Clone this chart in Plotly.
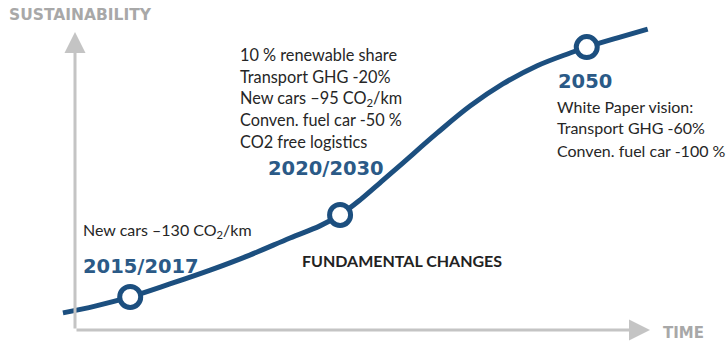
import plotly.graph_objects as go

# ---- data (abstract units: time 0..100, sustainability 0..100) ----
curve_time = [-2.1, 3.5, 9.6, 16.5, 23.5, 30.4, 37.4, 42.6, 46.1, 49.6, 53.0, 57.0, 63.0, 68.7, 74.4, 80.3, 86.1, 89.0, 94.8, 99.6]
curve_sust = [5.8, 8.1, 11.2, 15.6, 20.3, 25.4, 31.2, 35.3, 39.0, 44.1, 49.8, 56.6, 66.8, 75.9, 83.4, 89.5, 93.9, 95.9, 99.3, 102.0]

milestone_time = [9.6, 46.1, 89.0]
milestone_sust = [11.2, 39.0, 95.9]
milestone_labels = ["2015/2017", "2020/2030", "2050"]

block_2020 = ["10 % renewable share", "Transport GHG -20%", "New cars \u201395 CO<sub>2</sub>/km",
              "Conven. fuel car -50 %", "CO2 free logistics"]
block_2050 = ["White Paper vision:", "Transport GHG -60%", "Conven. fuel car -100 %"]
note_2015 = "New cars \u2013130 CO<sub>2</sub>/km"
middle_label = "FUNDAMENTAL CHANGES"
axis_y_title = "SUSTAINABILITY"
axis_x_title = "TIME"

W, H = 727, 343
BLUE = "#1c4f7f"
YEARBLUE = "#2b5a87"
GREY = "#c4c4c4"
TXT = "#262626"

fig = go.Figure()
fig.add_trace(go.Scatter(x=curve_time, y=curve_sust, mode="lines",
                         line=dict(color=BLUE, width=5, shape="spline", smoothing=1.0),
                         hoverinfo="skip"))
fig.add_trace(go.Scatter(x=milestone_time, y=milestone_sust, mode="markers",
                         marker=dict(size=21, color="white", line=dict(color=BLUE, width=5)),
                         hoverinfo="skip"))

ann = []
# axis arrows
ann.append(dict(x=0, y=101, ax=0, ay=0, xref="x", yref="y", axref="x", ayref="y",
                showarrow=True, arrowhead=2, arrowsize=1.4, arrowwidth=3, arrowcolor=GREY, text=""))
ann.append(dict(x=100, y=0, ax=0, ay=0, xref="x", yref="y", axref="x", ayref="y",
                showarrow=True, arrowhead=2, arrowsize=1.4, arrowwidth=3, arrowcolor=GREY, text=""))

def P(px, py):
    return px / W, 1 - py / H

def txt(text, px, py, size, color=TXT, family="Lato", bold=False):
    x, y = P(px, py)
    if bold:
        text = "<b>" + text + "</b>"
    ann.append(dict(x=x, y=y, xref="paper", yref="paper", xanchor="left", yanchor="middle",
                    text=text, showarrow=False, font=dict(size=size, color=color, family=family)))

txt(axis_y_title, 7, 15, 15.5, "#a8a8a8", "DejaVu Sans", True)
txt(axis_x_title, 661, 333, 15, "#a8a8a8", "DejaVu Sans", True)

for i, line in enumerate(block_2020):
    txt(line, 238, 55 + i * 21.5, 16.3)
for i, line in enumerate(block_2050):
    txt(line, 555, 106 + i * 22, 16)
txt(note_2015, 81, 230, 16)
txt(middle_label, 300, 260, 16, "#222222", "Lato", True)

year_pos = [(81, 266), (266, 168), (556, 82)]
for lab, (px, py) in zip(milestone_labels, year_pos):
    txt(lab, px, py, 19.5, YEARBLUE, "DejaVu Sans", True)

fig.update_layout(
    width=W, height=H, margin=dict(l=0, r=0, t=0, b=0),
    paper_bgcolor="white", plot_bgcolor="white", showlegend=False,
    xaxis=dict(range=[-75 / 5.75, 652 / 5.75], visible=False, fixedrange=True),
    yaxis=dict(range=[-13 / 2.95, 330 / 2.95], visible=False, fixedrange=True),
    annotations=ann,
)
fig.write_html("out.html")
